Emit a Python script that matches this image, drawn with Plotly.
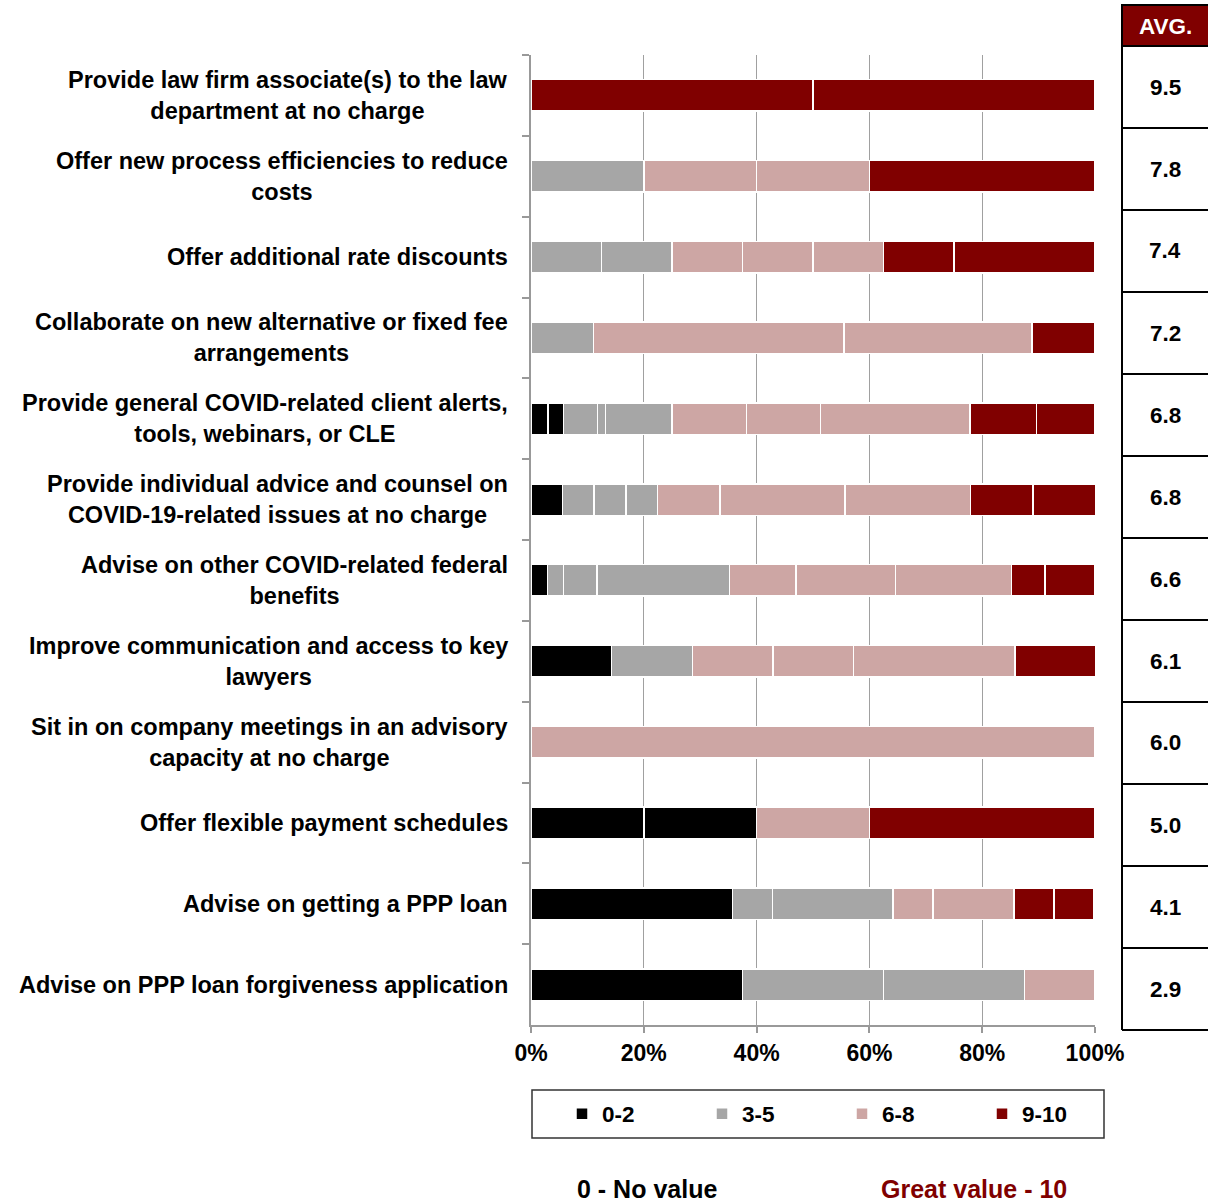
import plotly.graph_objects as go

# Survey items, top to bottom
categories = [
    "Provide law firm associate(s) to the law<br>department at no charge",
    "Offer new process efficiencies to reduce<br>costs",
    "Offer additional rate discounts",
    "Collaborate on new alternative or fixed fee<br>arrangements",
    "Provide general COVID-related client alerts,<br>tools, webinars, or CLE",
    "Provide individual advice and counsel on<br>COVID-19-related issues at no charge",
    "Advise on other COVID-related federal<br>benefits",
    "Improve communication and access to key<br>lawyers",
    "Sit in on company meetings in an advisory<br>capacity at no charge",
    "Offer flexible payment schedules",
    "Advise on getting a PPP loan",
    "Advise on PPP loan forgiveness application",
]

N = None
# Share of respondents (%) giving each score, per item
score_0 = [N, N, N, N, N, N, N, 14.3, N, 20.0, 35.7, 37.5]
score_1 = [N, N, N, N, 3.0, N, N, N, N, 20.0, N, N]
score_2 = [N, N, N, N, 2.8, 5.6, 2.9, N, N, N, N, N]
score_3 = [N, N, N, 11.1, 6.0, 5.6, 2.9, N, N, N, 7.1, 25.0]
score_4 = [N, N, 12.5, N, 1.4, 5.6, 5.9, 14.3, N, N, 21.4, N]
score_5 = [N, 20.0, 12.5, N, 11.8, 5.6, 23.5, N, N, N, N, 25.0]
score_6 = [N, 20.0, 12.5, N, 13.2, 11.1, 11.8, 14.3, 100.0, 20.0, N, N]
score_7 = [N, N, 12.5, 44.4, 13.1, 22.2, 17.6, 14.3, N, N, 7.1, 12.5]
score_8 = [N, 20.0, 12.5, 33.3, 26.5, 22.2, 20.6, 28.6, N, N, 14.3, N]
score_9 = [50.0, N, 12.5, N, 11.8, 11.1, 5.9, N, N, 40.0, 7.1, N]
score_10 = [50.0, 40.0, 25.0, 11.1, 10.4, 11.1, 8.8, 14.3, N, N, 7.1, N]

scores = [score_0, score_1, score_2, score_3, score_4, score_5,
          score_6, score_7, score_8, score_9, score_10]

# Average rating per item
averages = [9.5, 7.8, 7.4, 7.2, 6.8, 6.8, 6.6, 6.1, 6.0, 5.0, 4.1, 2.9]

group_labels = ["0-2", "3-5", "6-8", "9-10"]
group_colors = ["#000000", "#A6A6A6", "#CDA6A4", "#800000"]
x_ticks = [0, 20, 40, 60, 80, 100]


def group_of(score):
    if score <= 2:
        return 0
    if score <= 5:
        return 1
    if score <= 8:
        return 2
    return 3


FONT = "Liberation Sans, Arial, sans-serif"
W, H = 1208, 1202
ML, MR, MT, MB = 531, 113, 55, 177
PW, PH = W - ML - MR, H - MT - MB


def px_x(px):
    return (px - ML) / PW


def px_y(py):
    return (MT + PH - py) / PH


legend_names = ["legend", "legend2", "legend3", "legend4"]

fig = go.Figure()
first_in_group = set()
for s, vals in enumerate(scores):
    g = group_of(s)
    show = g not in first_in_group
    first_in_group.add(g)
    fig.add_trace(go.Bar(
        y=categories,
        x=vals,
        orientation="h",
        name=group_labels[g],
        legendgroup=group_labels[g],
        legend=legend_names[g],
        showlegend=show,
        marker=dict(color=group_colors[g], line=dict(color="white", width=1.5)),
        hovertemplate="%{y}<br>Score " + str(s) + ": %{x}%<extra></extra>",
    ))

# Item labels, right-aligned block with centred lines
for cat in categories:
    fig.add_annotation(
        x=0, xref="paper", y=cat, yref="y",
        text="<b>" + cat + "</b>", showarrow=False,
        xanchor="right", yanchor="middle", align="center", xshift=-21,
        font=dict(family=FONT, size=23.5, color="black"),
    )


def paper_text(px, py, text, size, color):
    fig.add_annotation(x=px_x(px), y=px_y(py), xref="paper", yref="paper",
                       text=text, showarrow=False,
                       xanchor="center", yanchor="middle",
                       font=dict(family=FONT, size=size, color=color))


shapes = []
# AVG. column
shapes.append(dict(type="rect", xref="paper", yref="paper",
                   x0=px_x(1122), x1=px_x(1210), y0=px_y(46), y1=px_y(5),
                   fillcolor="#800000", line=dict(color="black", width=2)))
shapes.append(dict(type="line", xref="paper", yref="paper",
                   x0=px_x(1122), x1=px_x(1122), y0=px_y(46), y1=px_y(1030),
                   line=dict(color="black", width=2)))
paper_text(1165, 26, "<b>AVG.</b>", 22.5, "white")
for k, avg in enumerate(averages):
    top = 46 + 82 * k
    shapes.append(dict(type="line", xref="paper", yref="paper",
                       x0=px_x(1122), x1=px_x(1210), y0=px_y(top + 82), y1=px_y(top + 82),
                       line=dict(color="black", width=2)))
    paper_text(1165, top + 41, "<b>%.1f</b>" % avg, 22.5, "black")

# Legend frame
shapes.append(dict(type="rect", xref="paper", yref="paper",
                   x0=px_x(532), x1=px_x(1104), y0=px_y(1138), y1=px_y(1090),
                   line=dict(color="#333333", width=1.5)))

# Scale end labels
paper_text(647, 1189, "<b>0 - No value</b>", 25, "black")
paper_text(974, 1189, "<b>Great value - 10</b>", 25, "#800000")

legend_style = dict(
    orientation="h", y=px_y(1114), xanchor="left", yanchor="middle",
    bgcolor="rgba(0,0,0,0)", borderwidth=0,
    font=dict(family=FONT, size=22.5, color="black", weight="bold"),
)
layout_legends = {}
for i, name in enumerate(legend_names):
    layout_legends[name] = dict(legend_style, x=px_x(562 + 140 * i))

fig.update_layout(
    width=W, height=H,
    margin=dict(l=ML, r=MR, t=MT, b=MB, pad=0),
    paper_bgcolor="white", plot_bgcolor="white",
    barmode="stack", bargap=0.61,
    font=dict(family=FONT, color="black"),
    shapes=shapes,
    showlegend=True,
    xaxis=dict(
        range=[0, 100], tickvals=x_ticks,
        ticktext=["%d%%" % v for v in x_ticks],
        showgrid=True, gridcolor="#A0A0A0", gridwidth=1,
        zeroline=False, showline=True, linecolor="#999999", linewidth=2,
        ticks="outside", ticklen=6, tickcolor="#999999", tickwidth=2,
        tickfont=dict(family=FONT, size=23, color="black", weight="bold"),
        fixedrange=True,
    ),
    yaxis=dict(
        categoryorder="array", categoryarray=categories,
        autorange="reversed",
        showticklabels=False, showgrid=False, zeroline=False,
        showline=True, linecolor="#999999", linewidth=2,
        ticks="outside", tickson="boundaries", ticklen=7,
        tickcolor="#999999", tickwidth=2,
        fixedrange=True,
    ),
    **layout_legends,
)

fig.write_html("out.html")
